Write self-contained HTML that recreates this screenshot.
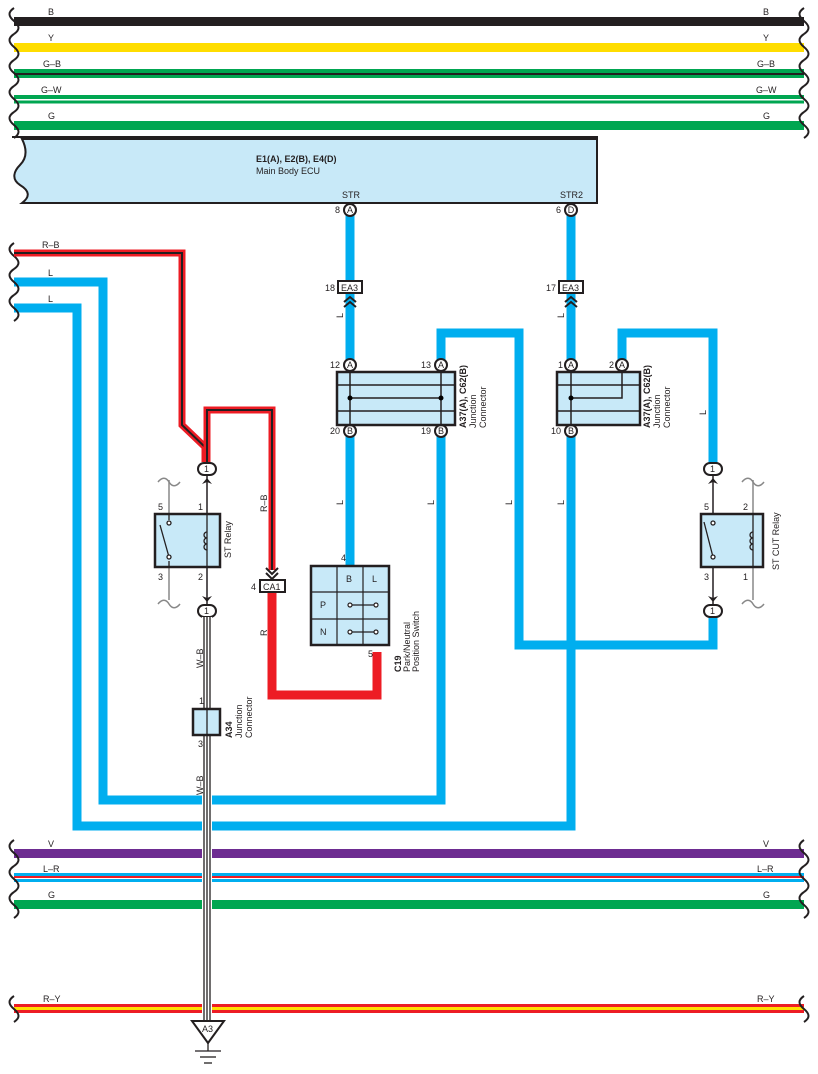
<!DOCTYPE html>
<html><head><meta charset="utf-8"><style>
html,body{margin:0;padding:0;background:#fff}
svg{display:block}
text{font-family:"Liberation Sans",sans-serif;font-size:9px;fill:#231f20}
.b{font-weight:bold}
</style></head><body>
<svg width="818" height="1074" viewBox="0 0 818 1074" xmlns="http://www.w3.org/2000/svg">
<defs>
<path id="sq" d="M0,0 c-6,4 -6,8 0,13 c6,5 6,9 0,13" fill="none" stroke="#231f20" stroke-width="2"/>
</defs>
<!-- top buses -->
<rect x="14" y="17" width="790" height="9" fill="#231f20"/>
<rect x="14" y="43" width="790" height="9" fill="#ffdd00"/>
<rect x="14" y="69" width="790" height="4" fill="#00a651"/>
<rect x="14" y="73" width="790" height="2" fill="#231f20"/>
<rect x="14" y="75" width="790" height="3" fill="#00a651"/>
<rect x="14" y="95" width="790" height="4" fill="#00a651"/>
<rect x="14" y="99" width="790" height="1.5" fill="#fff"/>
<rect x="14" y="100.5" width="790" height="3" fill="#00a651"/>
<rect x="14" y="121" width="790" height="9" fill="#00a651"/>
<g>
<use href="#sq" x="14" y="8"/><use href="#sq" x="14" y="34"/><use href="#sq" x="14" y="60"/><use href="#sq" x="14" y="86"/><use href="#sq" x="14" y="112"/>
<use href="#sq" x="804" y="8"/><use href="#sq" x="804" y="34"/><use href="#sq" x="804" y="60"/><use href="#sq" x="804" y="86"/><use href="#sq" x="804" y="112"/>
</g>
<text x="48" y="15">B</text><text x="48" y="41">Y</text><text x="43" y="67">G–B</text><text x="41" y="93">G–W</text><text x="48" y="119">G</text>
<text x="763" y="15">B</text><text x="763" y="41">Y</text><text x="757" y="67">G–B</text><text x="756" y="93">G–W</text><text x="763" y="119">G</text>
<line x1="12" y1="137" x2="598" y2="137" stroke="#231f20" stroke-width="2"/>
<!-- ECU -->
<path d="M22,139 H597 V203 H22 c8,-6 8,-12 -2,-18 c-9,-6 -6,-14 0,-20 c6,-6 8,-14 2,-26 z" fill="#c8e9f8" stroke="#231f20" stroke-width="2"/>
<text x="256" y="162" class="b">E1(A), E2(B), E4(D)</text>
<text x="256" y="174">Main Body ECU</text>
<text x="342" y="198">STR</text><text x="560" y="198">STR2</text>
<!-- blue wires -->
<g fill="none" stroke="#00aeef" stroke-width="9">
<path d="M350,215 V365"/>
<path d="M571,215 V365"/>
<path d="M350,431 V566"/>
<path d="M441,365 V333 H519 V645 H713 V610"/>
<path d="M622,365 V333 H713 V469"/>
<path d="M441,431 V800 H103 V282 H14"/>
<path d="M571,431 V826 H77 V308 H14"/>
</g>
<text x="48" y="276">L</text><text x="48" y="302">L</text>
<use href="#sq" x="14" y="243"/><use href="#sq" x="14" y="269"/><use href="#sq" x="14" y="295"/>
<!-- red-black wires -->
<g fill="none">
<path d="M14,253 H182 V425 L205,447 V462" stroke="#ed1c24" stroke-width="7"/>
<path d="M14,253 H182 V425 L205,447 V462" stroke="#231f20" stroke-width="2"/>
<path d="M207,462 V410 H272 V570" stroke="#ed1c24" stroke-width="7"/>
<path d="M207,462 V410 H272 V570" stroke="#231f20" stroke-width="2"/>
<path d="M272,592 V695 H377 V652" stroke="#ed1c24" stroke-width="9"/>
</g>
<text x="42" y="248">R–B</text>
<!-- pins -->
<g fill="#fff" stroke="#231f20" stroke-width="2">
<circle cx="350" cy="210" r="6"/><circle cx="571" cy="210" r="6"/>
<circle cx="350" cy="365" r="6"/><circle cx="441" cy="365" r="6"/>
<circle cx="350" cy="431" r="6"/><circle cx="441" cy="431" r="6"/>
<circle cx="571" cy="365" r="6"/><circle cx="622" cy="365" r="6"/>
<circle cx="571" cy="431" r="6"/>
</g>
<g text-anchor="middle">
<text x="350" y="213">A</text><text x="571" y="213">D</text>
<text x="350" y="368">A</text><text x="441" y="368">A</text><text x="350" y="434">B</text><text x="441" y="434">B</text>
<text x="571" y="368">A</text><text x="622" y="368">A</text><text x="571" y="434">B</text>
</g>
<text x="335" y="213">8</text><text x="556" y="213">6</text>
<text x="330" y="368">12</text><text x="421" y="368">13</text><text x="330" y="434">20</text><text x="421" y="434">19</text>
<text x="558" y="368">1</text><text x="609" y="368">2</text><text x="551" y="434">10</text>
<!-- EA3 -->
<g fill="#fff" stroke="#231f20" stroke-width="2"><rect x="338" y="281" width="24" height="12"/><rect x="559" y="281" width="24" height="12"/></g>
<text x="341" y="291">EA3</text><text x="562" y="291">EA3</text>
<text x="325" y="291">18</text><text x="546" y="291">17</text>
<g fill="none" stroke="#231f20" stroke-width="2"><path d="M344,302 l6,-5 l6,5 M344,307 l6,-5 l6,5"/><path d="M565,302 l6,-5 l6,5 M565,307 l6,-5 l6,5"/></g>
<g font-size="9"><text transform="translate(343,318) rotate(-90)">L</text><text transform="translate(564,318) rotate(-90)">L</text>
<text transform="translate(343,505) rotate(-90)">L</text><text transform="translate(434,505) rotate(-90)">L</text><text transform="translate(512,505) rotate(-90)">L</text><text transform="translate(564,505) rotate(-90)">L</text><text transform="translate(706,415) rotate(-90)">L</text></g>
<!-- junction boxes -->
<rect x="337" y="372" width="118" height="53" fill="#c8e9f8" stroke="#231f20" stroke-width="2.5"/>
<g stroke="#231f20" stroke-width="1.5"><line x1="337" y1="385" x2="455" y2="385"/><line x1="337" y1="411" x2="455" y2="411"/>
<line x1="350" y1="372" x2="350" y2="425"/><line x1="441" y1="372" x2="441" y2="425"/><line x1="350" y1="398" x2="441" y2="398"/></g>
<circle cx="350" cy="398" r="2.5"/><circle cx="441" cy="398" r="2.5"/>
<rect x="557" y="372" width="83" height="53" fill="#c8e9f8" stroke="#231f20" stroke-width="2.5"/>
<g stroke="#231f20" stroke-width="1.5" fill="none"><line x1="557" y1="385" x2="640" y2="385"/><line x1="557" y1="411" x2="640" y2="411"/>
<line x1="571" y1="372" x2="571" y2="425"/><path d="M622,372 V398 H571"/></g>
<circle cx="571" cy="398" r="2.5"/>
<g font-size="9"><text transform="translate(466,428) rotate(-90)" class="b">A37(A), C62(B)</text><text transform="translate(476,428) rotate(-90)">Junction</text><text transform="translate(486,428) rotate(-90)">Connector</text>
<text transform="translate(650,428) rotate(-90)" class="b">A37(A), C62(B)</text><text transform="translate(660,428) rotate(-90)">Junction</text><text transform="translate(670,428) rotate(-90)">Connector</text></g>
<!-- relays -->
<g stroke="#888" stroke-width="1.5" fill="none"><path d="M169,480 V600"/><path d="M158,482 c4,-5 8,-5 11,0 s7,5 11,0"/><path d="M158,604 c4,-5 8,-5 11,0 s7,5 11,0"/>
<path d="M753,480 V600"/><path d="M742,482 c4,-5 8,-5 11,0 s7,5 11,0"/><path d="M742,604 c4,-5 8,-5 11,0 s7,5 11,0"/></g>
<g stroke="#231f20" stroke-width="1.5" fill="none"><line x1="207" y1="470" x2="207" y2="612"/><line x1="713" y1="470" x2="713" y2="612"/></g>
<rect x="155" y="514" width="65" height="53" fill="#c8e9f8" stroke="#231f20" stroke-width="2.5"/>
<g stroke="#231f20" stroke-width="1.3" fill="none"><line x1="169" y1="514" x2="169" y2="520"/><line x1="169" y1="561" x2="169" y2="567"/><path d="M160,525 L169,557"/><circle cx="169" cy="523" r="2" fill="#fff"/><circle cx="169" cy="557" r="2" fill="#fff"/>
<line x1="207" y1="514" x2="207" y2="567"/>
<path d="M207,532 a3,3 0 0 0 0,6 a3,3 0 0 0 0,6 a3,3 0 0 0 0,6" transform="rotate(0)"/></g>
<text x="158" y="510">5</text><text x="198" y="510">1</text><text x="158" y="580">3</text><text x="198" y="580">2</text>
<text transform="translate(231,558) rotate(-90)">ST Relay</text>
<rect x="701" y="514" width="62" height="53" fill="#c8e9f8" stroke="#231f20" stroke-width="2.5"/>
<g stroke="#231f20" stroke-width="1.3" fill="none"><path d="M704,522 L713,557"/><circle cx="713" cy="523" r="2" fill="#fff"/><circle cx="713" cy="557" r="2" fill="#fff"/>
<line x1="753" y1="514" x2="753" y2="567"/><path d="M753,532 a3,3 0 0 0 0,6 a3,3 0 0 0 0,6 a3,3 0 0 0 0,6"/></g>
<text x="704" y="510">5</text><text x="743" y="510">2</text><text x="704" y="580">3</text><text x="743" y="580">1</text>
<text transform="translate(779,570) rotate(-90)">ST CUT Relay</text>
<!-- relay connectors -->
<g fill="#fff" stroke="#231f20" stroke-width="2">
<rect x="198" y="463" width="18" height="12" rx="6"/><rect x="198" y="605" width="18" height="12" rx="6"/>
<rect x="704" y="463" width="18" height="12" rx="6"/><rect x="704" y="605" width="18" height="12" rx="6"/>
</g>
<text x="204" y="472">1</text><text x="204" y="614">1</text><text x="710" y="472">1</text><text x="710" y="614">1</text>
<g fill="#231f20"><path d="M202,484 l5,-6 l5,6 l-5,-2z"/><path d="M202,596 l5,6 l5,-6 l-5,2z"/><path d="M708,484 l5,-6 l5,6 l-5,-2z"/><path d="M708,596 l5,6 l5,-6 l-5,2z"/></g>
<!-- CA1 -->
<rect x="260" y="580" width="25" height="12" fill="#fff" stroke="#231f20" stroke-width="2"/>
<text x="263" y="590">CA1</text><text x="251" y="590">4</text>
<path d="M266,568 l6,6 l6,-6 M266,573 l6,6 l6,-6" fill="none" stroke="#231f20" stroke-width="2"/>
<text transform="translate(267,512) rotate(-90)">R–B</text>
<text transform="translate(267,636) rotate(-90)">R</text>
<!-- switch -->
<rect x="311" y="566" width="78" height="79" fill="#c8e9f8" stroke="#231f20" stroke-width="2.5"/>
<g stroke="#231f20" stroke-width="1.2" fill="none"><line x1="337" y1="566" x2="337" y2="645"/><line x1="363" y1="566" x2="363" y2="645"/><line x1="311" y1="592" x2="389" y2="592"/><line x1="311" y1="619" x2="389" y2="619"/>
<line x1="350" y1="605" x2="376" y2="605"/><line x1="350" y1="632" x2="376" y2="632"/>
<circle cx="350" cy="605" r="2" fill="#fff"/><circle cx="376" cy="605" r="2" fill="#fff"/><circle cx="350" cy="632" r="2" fill="#fff"/><circle cx="376" cy="632" r="2" fill="#fff"/></g>
<text x="346" y="582">B</text><text x="372" y="582">L</text><text x="320" y="608">P</text><text x="320" y="635">N</text>
<text x="341" y="561">4</text><text x="368" y="657">5</text>
<text transform="translate(401,672) rotate(-90)" class="b">C19</text><text transform="translate(410,672) rotate(-90)">Park/Neutral</text><text transform="translate(419,672) rotate(-90)">Position Switch</text>
<!-- bottom buses -->
<rect x="14" y="849" width="790" height="9" fill="#6d2c91"/>
<rect x="14" y="873" width="790" height="3" fill="#00aeef"/><rect x="14" y="876" width="790" height="2" fill="#ed1c24"/><rect x="14" y="879" width="790" height="3" fill="#00aeef"/>
<rect x="14" y="900" width="790" height="9" fill="#00a651"/>
<rect x="14" y="1004" width="790" height="3" fill="#ed1c24"/><rect x="14" y="1007" width="790" height="3" fill="#ffdd00"/><rect x="14" y="1010" width="790" height="3" fill="#ed1c24"/>
<use href="#sq" x="14" y="840"/><use href="#sq" x="14" y="866"/><use href="#sq" x="14" y="892"/><use href="#sq" x="14" y="996"/>
<use href="#sq" x="804" y="840"/><use href="#sq" x="804" y="866"/><use href="#sq" x="804" y="892"/><use href="#sq" x="804" y="996"/>
<text x="48" y="847">V</text><text x="43" y="872">L–R</text><text x="48" y="898">G</text><text x="43" y="1002">R–Y</text>
<text x="763" y="847">V</text><text x="757" y="872">L–R</text><text x="763" y="898">G</text><text x="757" y="1002">R–Y</text>
<!-- W-B wire -->
<rect x="202" y="617" width="10" height="404" fill="#fff"/>
<g stroke="#231f20" stroke-width="1.3"><line x1="204" y1="617" x2="204" y2="1021"/><line x1="207" y1="617" x2="207" y2="1021"/><line x1="210" y1="617" x2="210" y2="1021"/></g>
<rect x="193" y="709" width="27" height="26" fill="#c8e9f8" stroke="#231f20" stroke-width="2.5"/>
<line x1="207" y1="709" x2="207" y2="735" stroke="#231f20" stroke-width="1.3"/>
<text x="199" y="704">1</text><text x="198" y="747">3</text>
<text transform="translate(232,738) rotate(-90)" class="b">A34</text><text transform="translate(242,738) rotate(-90)">Junction</text><text transform="translate(252,738) rotate(-90)">Connector</text>
<text transform="translate(203,668) rotate(-90)">W–B</text><text transform="translate(203,795) rotate(-90)">W–B</text>
<path d="M192,1021 H224 L208,1043 Z" fill="#fff" stroke="#231f20" stroke-width="2"/>
<text x="202" y="1032">A3</text>
<g stroke="#231f20" stroke-width="1.3"><line x1="208" y1="1043" x2="208" y2="1051"/><line x1="195" y1="1051" x2="221" y2="1051"/><line x1="200" y1="1057" x2="216" y2="1057"/><line x1="204" y1="1063" x2="212" y2="1063"/></g>
</svg>
</body></html>
